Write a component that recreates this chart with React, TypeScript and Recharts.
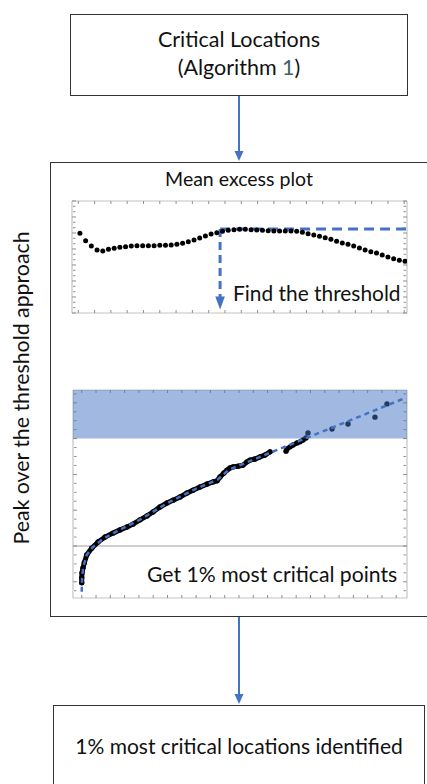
import React from 'react';
import {
  ComposedChart,
  Scatter,
  Line,
  XAxis,
  YAxis,
  ReferenceLine,
  ReferenceArea,
  ReferenceDot,
} from 'recharts';

const FONT = 'Lato, "Open Sans", "DejaVu Sans", sans-serif';
const BLUE = '#4472C4';
const FRAME = '#c4c4c4';
const TICK = '#8f8f8f';

// ---------- Mean excess plot ----------
const meThreshold = [
  0.1, 0.45, 0.8, 1.15, 1.5, 1.85, 2.2, 2.55, 2.9, 3.25, 3.6, 3.95, 4.3, 4.65, 5.0,
  5.35, 5.7, 6.05, 6.4, 6.75, 7.1, 7.45, 7.8, 8.15, 8.5, 8.85, 9.2, 9.55, 9.9, 10.25,
  10.6, 10.95, 11.3, 11.65, 12.0, 12.35, 12.7, 13.05, 13.4, 13.75, 14.1, 14.45, 14.8,
  15.15, 15.5, 15.85, 16.2, 16.55, 16.9, 17.25, 17.6, 17.95, 18.3, 18.65, 19.0, 19.35,
  19.7, 20.05,
];
const meMeanExcess = [
  4.98, 4.52, 4.19, 3.94, 3.88, 3.98, 4.04, 4.11, 4.14, 4.19, 4.21, 4.21, 4.21, 4.21,
  4.23, 4.23, 4.25, 4.29, 4.36, 4.46, 4.56, 4.69, 4.81, 4.94, 5.02, 5.11, 5.17, 5.21,
  5.23, 5.23, 5.21, 5.19, 5.17, 5.14, 5.13, 5.13, 5.13, 5.13, 5.11, 5.04, 4.96, 4.88,
  4.79, 4.71, 4.61, 4.48, 4.38, 4.29, 4.19, 4.06, 3.94, 3.83, 3.75, 3.63, 3.5, 3.39,
  3.29, 3.23, 3.14, 2.98,
];
const meXDomain = [-0.387, 20.17];
const meYDomain = [0, 7];
const meXTicks = [0, 1, 2, 3, 4, 5, 6, 7, 8, 9, 10, 11, 12, 13, 14, 15, 16, 17, 18, 19, 20];
const meYMajor = [0, 1, 2, 3, 4, 5, 6, 7];
const meYMinor = [
  0.33, 0.67, 1.33, 1.67, 2.33, 2.67, 3.33, 3.67, 4.33, 4.67, 5.33, 5.67, 6.33, 6.67,
];
const thresholdU = 8.7;
const thresholdME = 5.25;
const arrowStemEnd = 1.0;
const arrowHeadAt = 0.62;

// ---------- QQ plot ----------
const qqLowX = [
  0.0, 0.0, 0.004, 0.018, 0.036, 0.07, 0.14, 0.228, 0.326, 0.438, 0.536, 0.634, 0.717,
  0.815, 0.913, 0.997, 1.095, 1.193, 1.277, 1.375, 1.473, 1.557, 1.655, 1.753, 1.837,
  1.893, 1.934, 1.99, 2.032, 2.074, 2.116, 2.186, 2.256, 2.312, 2.354, 2.424, 2.494,
  2.564, 2.634,
];
const qqLowY = [
  0.97, 1.11, 1.25, 1.39, 1.53, 1.75, 1.94, 2.11, 2.25, 2.36, 2.45, 2.53, 2.61, 2.73,
  2.84, 2.95, 3.09, 3.2, 3.28, 3.37, 3.48, 3.56, 3.65, 3.73, 3.79, 3.82, 3.93, 4.04,
  4.12, 4.18, 4.21, 4.23, 4.26, 4.35, 4.4, 4.43, 4.49, 4.54, 4.63,
];
const qqMidX = [2.858, 2.872, 2.914, 2.956, 3.012, 3.053, 3.095, 3.137];
const qqMidY = [4.65, 4.71, 4.77, 4.82, 4.88, 4.91, 4.96, 5.02];
const qqTailX = [3.165, 3.501, 3.725, 4.102, 4.27];
const qqTailY = [5.16, 5.27, 5.41, 5.6, 5.97];
const fitX = [0.0, 0.005, 0.02, 0.07, 0.15, 0.3, 0.5, 0.8, 1.2, 1.6, 1.9, 2.05, 2.3, 2.63, 4.495];
const fitY = [0.72, 1.1, 1.4, 1.75, 1.96, 2.2, 2.42, 2.72, 3.2, 3.6, 3.85, 4.12, 4.33, 4.6, 6.11];
const qqXDomain = [-0.122, 4.55];
const qqYDomain = [0.547, 6.358];
const qqXTicks = [
  0, 0.2, 0.4, 0.6, 0.8, 1.0, 1.2, 1.4, 1.6, 1.8, 2.0, 2.2, 2.4, 2.6, 2.8, 3.0, 3.2, 3.4,
  3.6, 3.8, 4.0, 4.2, 4.4,
];
const qqYMajor = [1, 2, 3, 4, 5, 6];
const qqYMinor = [
  0.75, 1.25, 1.5, 1.75, 2.25, 2.5, 2.75, 3.25, 3.5, 3.75, 4.25, 4.5, 4.75, 5.25, 5.5,
  5.75, 6.25,
];
const qqBaseline = 2;
const qqCriticalFrom = 5;

const zip = (xs: number[], ys: number[]) => xs.map((x, i) => ({ x, y: ys[i] }));

const meData = zip(meThreshold, meMeanExcess);
const qqLow = zip(qqLowX, qqLowY);
const qqMid = zip(qqMidX, qqMidY);
const qqTail = zip(qqTailX, qqTailY);
const qqAll = [...qqLow, ...qqMid, ...qqTail];
const fitData = zip(fitX, fitY);

const noLabel = () => <g />;

function frameAxes(
  xDomain: number[],
  yDomain: number[],
  xTicks: number[],
  yMajor: number[],
  yMinor: number[]
) {
  const common = {
    type: 'number' as const,
    allowDataOverflow: true,
    mirror: true,
    tick: noLabel,
    tickLine: { stroke: TICK, strokeWidth: 1 },
    interval: 0 as const,
  };
  return [
    <XAxis key="xb" xAxisId="b" dataKey="x" orientation="bottom" domain={xDomain} ticks={xTicks}
      height={1} tickSize={3} axisLine={{ stroke: FRAME, strokeWidth: 1.2 }} {...common} />,
    <XAxis key="xt" xAxisId="t" dataKey="x" orientation="top" domain={xDomain} ticks={xTicks}
      height={1} tickSize={3} axisLine={{ stroke: FRAME, strokeWidth: 1.2 }} {...common} />,
    <YAxis key="yl" yAxisId="l" dataKey="y" orientation="left" domain={yDomain} ticks={yMajor}
      width={1} tickSize={4} axisLine={{ stroke: FRAME, strokeWidth: 1.2 }} {...common} />,
    <YAxis key="yr" yAxisId="r" dataKey="y" orientation="right" domain={yDomain} ticks={yMajor}
      width={1} tickSize={4} axisLine={{ stroke: FRAME, strokeWidth: 1.2 }} {...common} />,
    <YAxis key="ylm" yAxisId="lm" dataKey="y" orientation="left" domain={yDomain} ticks={yMinor}
      width={1} tickSize={2.5} axisLine={false} {...common} />,
    <YAxis key="yrm" yAxisId="rm" dataKey="y" orientation="right" domain={yDomain} ticks={yMinor}
      width={1} tickSize={2.5} axisLine={false} {...common} />,
  ];
}

const dot = (r: number, fill: string) => (p: any) =>
  p.cx == null ? <g /> : <circle cx={p.cx} cy={p.cy} r={r} fill={fill} />;

const arrowHead = (p: any) =>
  p.cx == null ? (
    <g />
  ) : (
    <polygon
      points={`${p.cx - 4.8},${p.cy - 6.5} ${p.cx + 4.8},${p.cy - 6.5} ${p.cx},${p.cy + 6.5}`}
      fill={BLUE}
    />
  );

function MeanExcessChart() {
  return (
    <ComposedChart width={337} height={114} margin={{ top: 1, right: 1, bottom: 1, left: 1 }}>
      {frameAxes(meXDomain, meYDomain, meXTicks, meYMajor, meYMinor)}
      <ReferenceLine
        xAxisId="b"
        yAxisId="l"
        segment={[
          { x: thresholdU, y: thresholdME },
          { x: meXDomain[1], y: thresholdME },
        ]}
        stroke={BLUE}
        strokeWidth={3}
        strokeDasharray="10 6"
      />
      <ReferenceLine
        xAxisId="b"
        yAxisId="l"
        segment={[
          { x: thresholdU, y: thresholdME },
          { x: thresholdU, y: arrowStemEnd },
        ]}
        stroke={BLUE}
        strokeWidth={3}
        strokeDasharray="8 5"
      />
      <ReferenceDot xAxisId="b" yAxisId="l" x={thresholdU} y={arrowHeadAt} shape={arrowHead} />
      <Scatter
        xAxisId="b"
        yAxisId="l"
        data={meData}
        shape={dot(2.5, '#000')}
        isAnimationActive={false}
      />
    </ComposedChart>
  );
}

function QQChart() {
  return (
    <ComposedChart width={336} height={210} margin={{ top: 1, right: 1, bottom: 1, left: 1 }}>
      {frameAxes(qqXDomain, qqYDomain, qqXTicks, qqYMajor, qqYMinor)}
      <ReferenceLine xAxisId="b" yAxisId="l" y={qqBaseline} stroke="#9e9e9e" strokeWidth={1} />
      <Line
        xAxisId="b"
        yAxisId="l"
        data={qqLow}
        dataKey="y"
        stroke="#000"
        strokeWidth={5}
        dot={false}
        strokeLinecap="round"
        isAnimationActive={false}
      />
      <Line
        xAxisId="b"
        yAxisId="l"
        data={qqMid}
        dataKey="y"
        stroke="#000"
        strokeWidth={4.5}
        dot={false}
        strokeLinecap="round"
        isAnimationActive={false}
      />
      <Scatter
        xAxisId="b"
        yAxisId="l"
        data={qqAll}
        shape={dot(2.7, '#000')}
        isAnimationActive={false}
      />
      <Line
        xAxisId="b"
        yAxisId="l"
        data={fitData}
        dataKey="y"
        stroke={BLUE}
        strokeWidth={2.5}
        strokeDasharray="5 4"
        dot={false}
        isAnimationActive={false}
        {...({ zIndex: 650 } as any)}
      />
      <ReferenceArea
        xAxisId="b"
        yAxisId="l"
        y1={qqCriticalFrom}
        y2={qqYDomain[1]}
        fill={BLUE}
        fillOpacity={0.5}
        stroke="none"
        ifOverflow="hidden"
        {...({ zIndex: 700 } as any)}
      />
    </ComposedChart>
  );
}

export default function App() {
  const textStyle = { fontFamily: FONT, fill: '#111' };
  return (
    <div
      style={{
        position: 'absolute',
        left: 0,
        top: 0,
        width: 427,
        height: 784,
        overflow: 'hidden',
        background: '#fff',
      }}
    >
      <svg width={427} height={784} style={{ position: 'absolute', left: 0, top: 0 }}>
        <rect x={70.5} y={14.5} width={337} height={81} fill="none" stroke="#333" strokeWidth={1} />
        <line x1={239} y1={96} x2={239} y2={151} stroke={BLUE} strokeWidth={2} />
        <polygon points="234.5,151 243.5,151 239,161" fill={BLUE} />
        <rect x={50.5} y={162.5} width={420} height={454} fill="none" stroke="#333" strokeWidth={1} />
        <line x1={239} y1={617} x2={239} y2={694} stroke={BLUE} strokeWidth={2} />
        <polygon points="234.5,694 243.5,694 239,704" fill={BLUE} />
        <rect x={53.5} y={705.5} width={371} height={120} fill="none" stroke="#333" strokeWidth={1} />
      </svg>
      <div style={{ position: 'absolute', left: 71, top: 200 }}>
        <MeanExcessChart />
      </div>
      <div style={{ position: 'absolute', left: 72, top: 389 }}>
        <QQChart />
      </div>
      <svg
        width={427}
        height={784}
        style={{ position: 'absolute', left: 0, top: 0, pointerEvents: 'none' }}
      >
        <text x={239} y={47} textAnchor="middle" fontSize={21.5} style={textStyle}>
          Critical Locations
        </text>
        <text x={239} y={74.5} textAnchor="middle" fontSize={21.5} style={textStyle}>
          (Algorithm <tspan fill="#3d6464">1</tspan>)
        </text>
        <text x={239} y={186} textAnchor="middle" fontSize={19.5} style={textStyle}>
          Mean excess plot
        </text>
        <text
          x={0}
          y={0}
          textAnchor="middle"
          fontSize={21.3}
          style={textStyle}
          transform="translate(28.5,388) rotate(-90)"
        >
          Peak over the threshold approach
        </text>
        <text x={233} y={301} fontSize={20.9} style={textStyle}>
          Find the threshold
        </text>
        <text x={147} y={582} fontSize={21.2} style={textStyle}>
          Get 1% most critical points
        </text>
        <text x={239} y={754} textAnchor="middle" fontSize={21} style={textStyle}>
          1% most critical locations identified
        </text>
      </svg>
    </div>
  );
}
